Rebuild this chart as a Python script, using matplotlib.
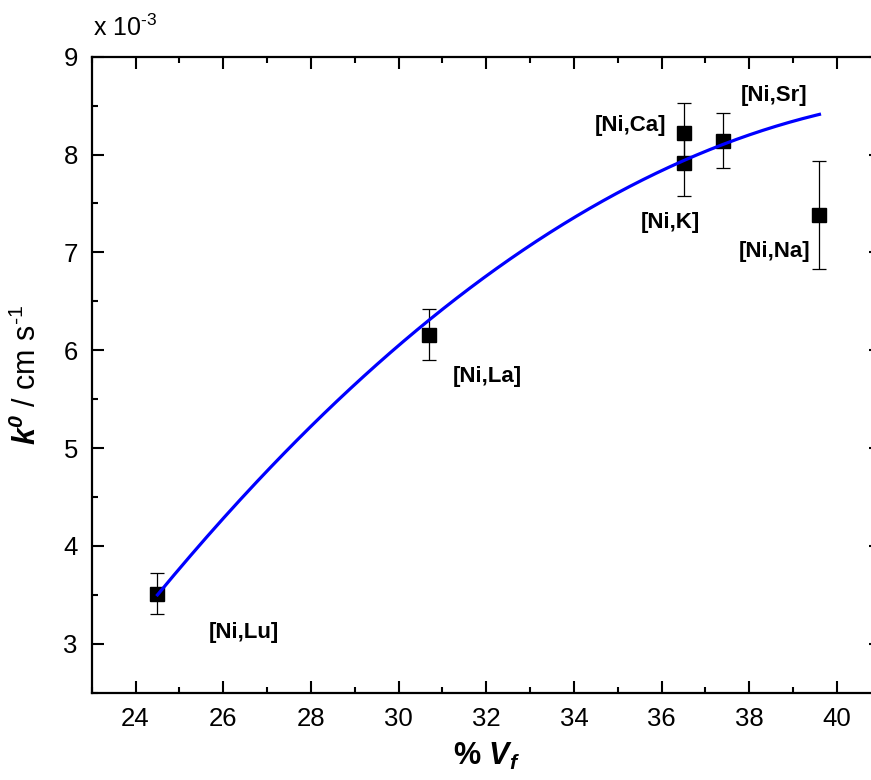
import matplotlib
matplotlib.use("Agg")
import matplotlib.pyplot as plt
import numpy as np
from matplotlib.ticker import MultipleLocator

plt.rcParams['font.family'] = ['Liberation Sans', 'DejaVu Sans']
plt.rcParams['mathtext.fontset'] = 'custom'
plt.rcParams['mathtext.rm'] = 'Liberation Sans'
plt.rcParams['mathtext.it'] = 'Liberation Sans:italic'
plt.rcParams['mathtext.bf'] = 'Liberation Sans:bold'
plt.rcParams['mathtext.bfit'] = 'Liberation Sans:bold:italic'

# Volume fraction (%) and k0 (in units of 1e-3 cm/s) with error bars
labels = ['[Ni,Lu]', '[Ni,La]', '[Ni,Ca]', '[Ni,K]', '[Ni,Sr]', '[Ni,Na]']
vf = [24.5, 30.7, 36.5, 36.5, 37.4, 39.6]
k0 = [3.51, 6.16, 8.22, 7.91, 8.14, 7.38]
k0_err = [0.21, 0.26, 0.31, 0.33, 0.28, 0.55]

# label anchor positions (data coords)
label_x = [26.47, 32.02, 35.30, 36.19, 38.56, 38.58]
label_y = [3.12, 5.73, 8.30, 7.31, 8.60, 7.01]

# quadratic fit curve: k0 = c0 + c1*(vf - 24.5) + c2*(vf - 24.5)^2
fit_coef = [3.50, 0.5425, -0.01439]
fit_range = [24.5, 39.6]

fig = plt.figure(figsize=(8.71, 7.8), dpi=100)
ax = fig.add_axes([0.1053, 0.1119, 0.906, 0.8154])

xf = np.linspace(fit_range[0], fit_range[1], 200)
tf = xf - fit_range[0]
yf = fit_coef[0] + fit_coef[1] * tf + fit_coef[2] * tf ** 2
ax.plot(xf, yf, color='#0000ff', lw=2.3, zorder=3)

ax.errorbar(vf, k0, yerr=k0_err, fmt='s', color='black', ms=9.5,
            ecolor='black', elinewidth=0.9, capsize=4.7, capthick=0.9, zorder=2)

for lab, lx, ly in zip(labels, label_x, label_y):
    ax.text(lx, ly, lab, ha='center', va='center', fontsize=16, fontweight='bold')

ax.set_xlim(23, 41)
ax.set_ylim(2.5, 9)
ax.xaxis.set_major_locator(MultipleLocator(2))
ax.xaxis.set_minor_locator(MultipleLocator(1))
ax.yaxis.set_major_locator(MultipleLocator(1))
ax.yaxis.set_minor_locator(MultipleLocator(0.5))
ax.tick_params(which='both', direction='in', top=True, right=True, width=1.5)
ax.tick_params(which='major', length=8.6, labelsize=18.5, pad=10)
ax.tick_params(which='minor', length=4.5)
for sp in ax.spines.values():
    sp.set_linewidth(1.6)

ax.set_xlabel(r'% $\mathbfit{V}_{\mathbfit{f}}$', fontsize=22, fontweight='bold')
ax.set_ylabel(r'$\mathbfit{k}^{\mathbfit{0}}$ / cm s$^{\text{-1}}$', fontsize=22)
ax.xaxis.set_label_coords(0.5, -0.075)
ax.yaxis.set_label_coords(-0.062, 0.5)

ax.text(0.002, 1.025, r'x 10$^{\text{-3}}$', transform=ax.transAxes, fontsize=18,
        ha='left', va='bottom')

fig.savefig('out.png', dpi=100)
